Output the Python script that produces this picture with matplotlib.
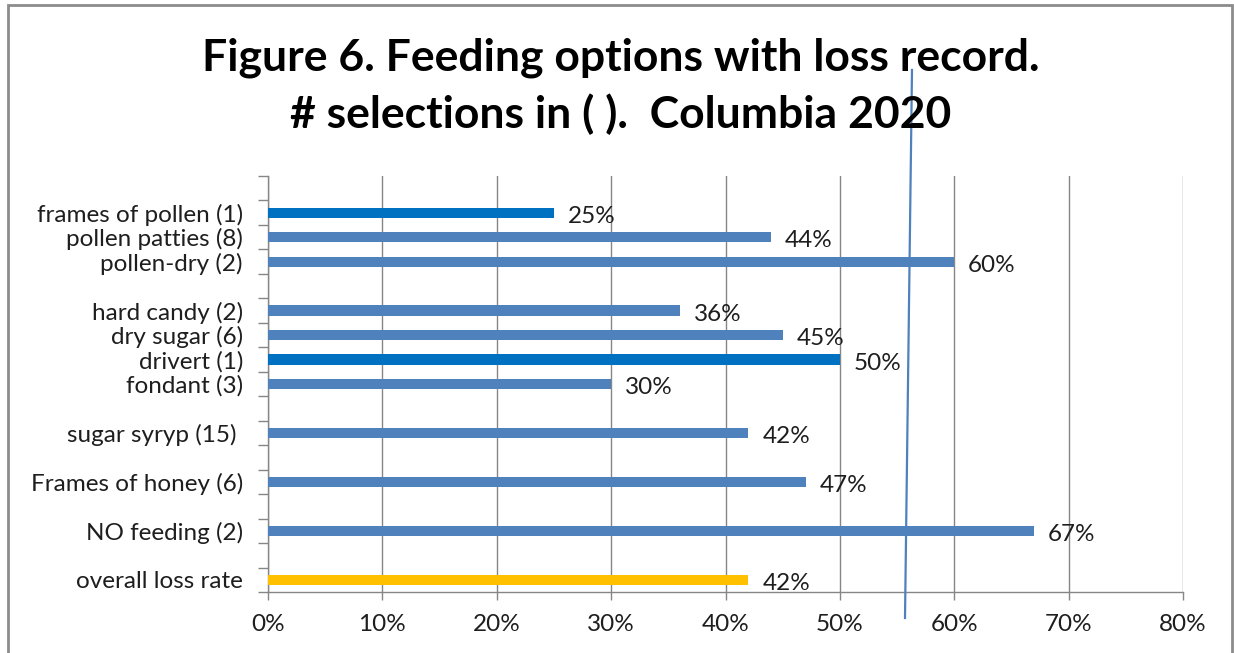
import numpy as np
import matplotlib
matplotlib.use("Agg")
import matplotlib.pyplot as plt
from matplotlib.lines import Line2D
from matplotlib.patches import Rectangle


# categories listed bottom to top, blank rows are spacers like in the excel sheet
categories = ["overall loss rate", "", "NO feeding (2)", "", "Frames of honey (6)", "",
              "sugar syryp (15) ", "", "fondant (3)", "drivert (1)", "dry sugar (6)",
              "hard candy (2)", "", "pollen-dry (2)", "pollen patties (8)",
              "frames of pollen (1)", ""]
loss_rate = [0.42, np.nan, 0.67, np.nan, 0.47, np.nan, 0.42, np.nan, 0.30, 0.50, 0.45,
             0.36, np.nan, 0.60, 0.44, 0.25, np.nan]
bar_colors = ["#FFC000", "w", "#4F81BD", "w", "#4F81BD", "w", "#4F81BD", "w", "#4F81BD",
              "#0070C0", "#4F81BD", "#4F81BD", "w", "#4F81BD", "#4F81BD", "#0070C0", "w"]
xticks = [0, 0.1, 0.2, 0.3, 0.4, 0.5, 0.6, 0.7, 0.8]

plt.rcParams['font.family'] = ['Lato', 'DejaVu Sans']
grey = "#868686"
txt = "#1e1e1e"

fig = plt.figure(figsize=(12.34, 6.53), dpi=100)
ax = fig.add_axes([268 / 1234, 1 - 592 / 653, (1183 - 268) / 1234, (592 - 176) / 653])

pos = np.arange(len(categories))
ax.barh(pos, loss_rate, height=0.42, color=bar_colors, zorder=3)

for y, v in zip(pos, loss_rate):
    if not np.isnan(v):
        ax.annotate(f"{v:.0%}", (v, y), xytext=(10, -2.5), textcoords="offset points",
                    va="center", ha="left", fontsize=17.5, color=txt, zorder=4)

ax.set_xlim(0, 0.8)
ax.set_ylim(-0.5, len(categories) - 0.5)
ax.set_xticks(xticks)
ax.set_xticklabels([f"{t:.0%}" for t in xticks], fontsize=17.5, color=txt)
ax.set_yticks(pos)
ax.set_yticklabels(categories, fontsize=17.5, color=txt)
ax.set_yticks(np.arange(len(categories) + 1) - 0.5, minor=True)
ax.tick_params(axis="y", which="major", length=0, pad=18)
ax.tick_params(axis="y", which="minor", length=7, color=grey, width=1)
ax.tick_params(axis="x", length=6, color=grey, width=1, pad=10)

ax.grid(axis="x", color=grey, linewidth=1, zorder=0)
for side in ["top", "right"]:
    ax.spines[side].set_visible(False)
for side in ["left", "bottom"]:
    ax.spines[side].set_color(grey)
    ax.spines[side].set_linewidth(1)

fig.text(621 / 1234, 1 - 70 / 653, "Figure 6. Feeding options with loss record.",
         ha="center", va="baseline", fontsize=32, fontweight="bold")
fig.text(621 / 1234, 1 - 128 / 653, "# selections in ( ).  Columbia 2020",
         ha="center", va="baseline", fontsize=32, fontweight="bold")

# hand drawn line on the chart
fig.add_artist(Line2D([912 / 1234, 905 / 1234], [1 - 70 / 653, 1 - 618 / 653],
                      color="#4F81BD", linewidth=1.6))

# outer chart frame
fig.add_artist(Rectangle((8 / 1234, -0.02), (1232 - 8) / 1234, 1.02 - 5 / 653,
                         fill=False, edgecolor="#8C8C8C", linewidth=2))

plt.savefig("out.png", dpi=100)
